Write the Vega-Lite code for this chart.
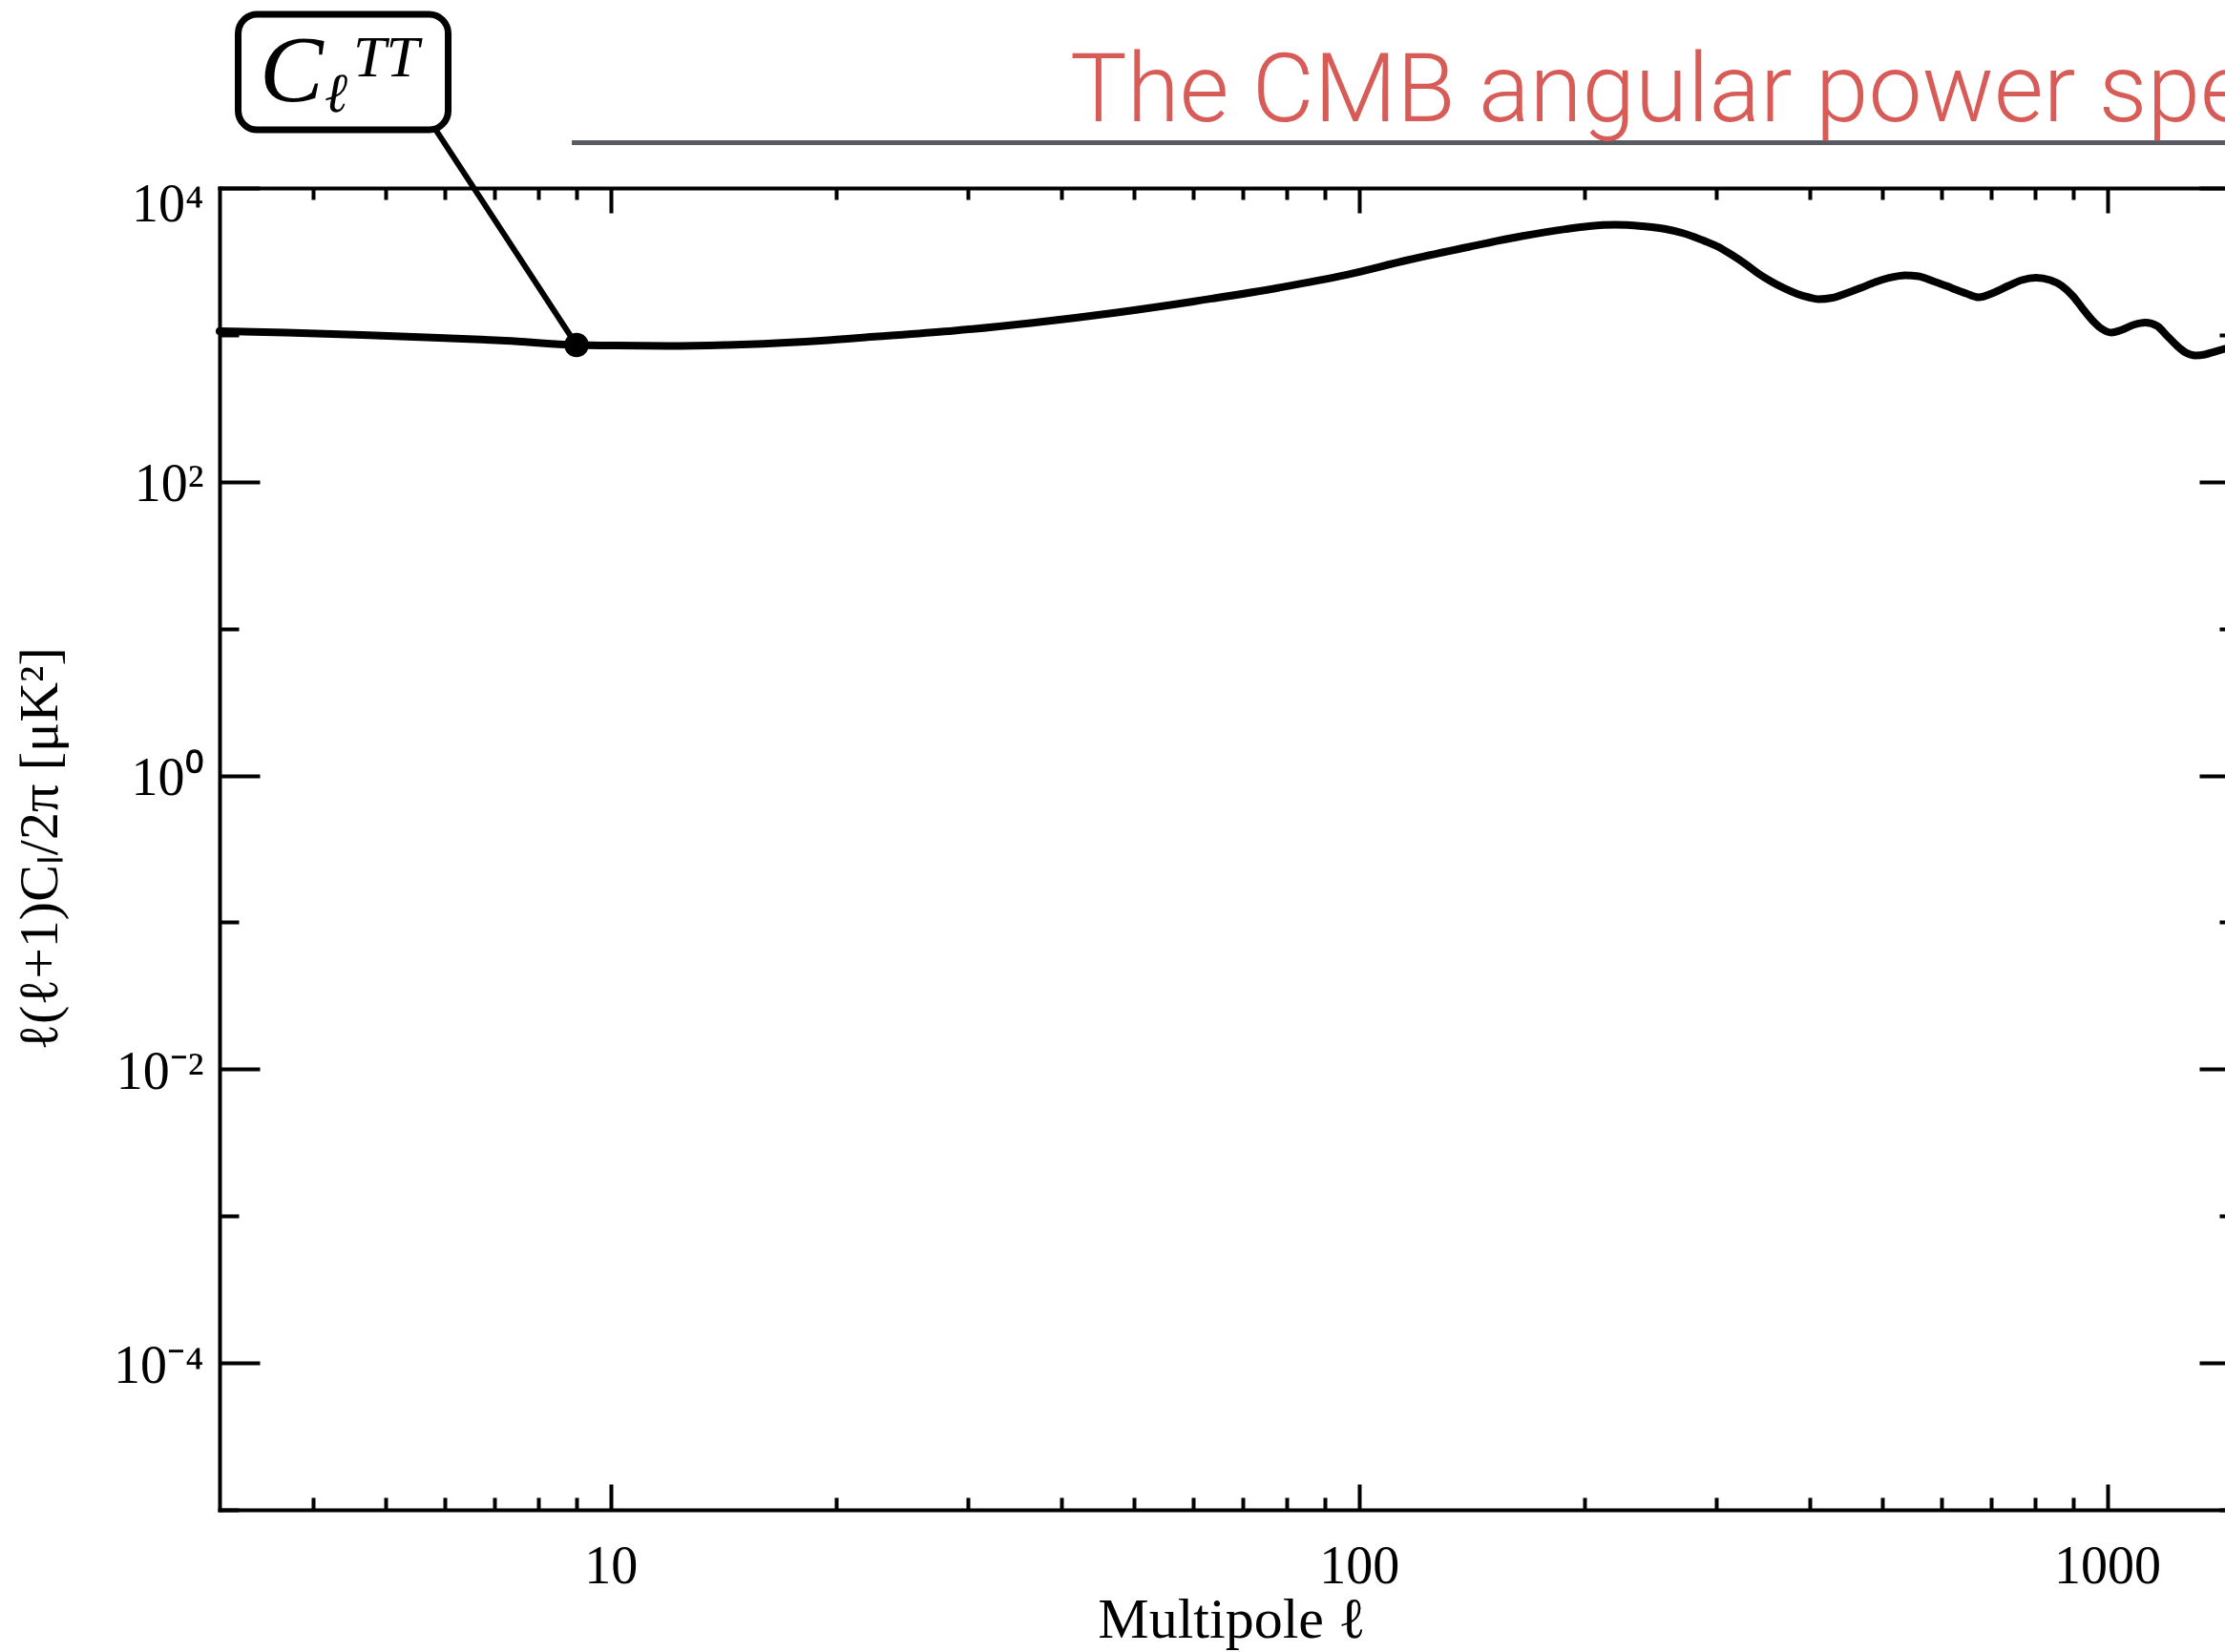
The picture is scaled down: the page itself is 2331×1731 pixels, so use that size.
{
  "$schema": "https://vega.github.io/schema/vega-lite/v6.json",
  "width": 2101,
  "height": 1385,
  "autosize": {"type": "none"},
  "padding": {"left": 230, "top": 197, "right": 0, "bottom": 149},
  "background": "white",
  "config": {
    "view": {"stroke": null},
    "axis": {
      "grid": false,
      "domainColor": "black",
      "domainWidth": 4,
      "domainCap": "square",
      "tickColor": "black",
      "tickWidth": 4,
      "labelColor": "black",
      "titleColor": "black",
      "labelFont": "Liberation Serif",
      "titleFont": "Liberation Serif",
      "labelFontWeight": "normal",
      "titleFontWeight": "normal"
    }
  },
  "datasets": {
    "spectrum": [
      {"ell": 3, "Dl": 1060}, {"ell": 3.683, "Dl": 1036}, {"ell": 4.659, "Dl": 999}, {"ell": 5.893, "Dl": 955},
      {"ell": 7.24, "Dl": 913}, {"ell": 9, "Dl": 853}, {"ell": 10, "Dl": 847}, {"ell": 11.93, "Dl": 841},
      {"ell": 14.23, "Dl": 853}, {"ell": 16, "Dl": 870}, {"ell": 19.09, "Dl": 913}, {"ell": 22.76, "Dl": 976},
      {"ell": 28.8, "Dl": 1068}, {"ell": 36.42, "Dl": 1204}, {"ell": 47.45, "Dl": 1419}, {"ell": 60, "Dl": 1686},
      {"ell": 78.17, "Dl": 2094}, {"ell": 96, "Dl": 2556}, {"ell": 116.2, "Dl": 3231}, {"ell": 140.7, "Dl": 3985},
      {"ell": 164.9, "Dl": 4697}, {"ell": 188.7, "Dl": 5248}, {"ell": 203.1, "Dl": 5497}, {"ell": 219.8, "Dl": 5620},
      {"ell": 238.7, "Dl": 5497}, {"ell": 256.9, "Dl": 5256}, {"ell": 271.6, "Dl": 4914}, {"ell": 289.7, "Dl": 4359},
      {"ell": 301.9, "Dl": 3985}, {"ell": 315.5, "Dl": 3483}, {"ell": 329.7, "Dl": 2999}, {"ell": 341.6, "Dl": 2621},
      {"ell": 354.8, "Dl": 2325}, {"ell": 370.9, "Dl": 2063}, {"ell": 385.3, "Dl": 1900}, {"ell": 399.1, "Dl": 1803},
      {"ell": 411, "Dl": 1750}, {"ell": 429.5, "Dl": 1789}, {"ell": 447.5, "Dl": 1914}, {"ell": 469, "Dl": 2094},
      {"ell": 490.2, "Dl": 2291}, {"ell": 512.3, "Dl": 2451}, {"ell": 537, "Dl": 2544}, {"ell": 559.6, "Dl": 2506},
      {"ell": 584.8, "Dl": 2325}, {"ell": 618.3, "Dl": 2094}, {"ell": 648.1, "Dl": 1914}, {"ell": 673.4, "Dl": 1803},
      {"ell": 703.7, "Dl": 1929}, {"ell": 737.5, "Dl": 2158}, {"ell": 768.6, "Dl": 2360}, {"ell": 803.2, "Dl": 2451},
      {"ell": 839.3, "Dl": 2360}, {"ell": 869.6, "Dl": 2158}, {"ell": 900.6, "Dl": 1830}, {"ell": 927.6, "Dl": 1507},
      {"ell": 955, "Dl": 1260}, {"ell": 983.4, "Dl": 1100}, {"ell": 1012.7, "Dl": 1036}, {"ell": 1043, "Dl": 1076},
      {"ell": 1083, "Dl": 1168}, {"ell": 1125, "Dl": 1213}, {"ell": 1166, "Dl": 1151}, {"ell": 1201, "Dl": 991},
      {"ell": 1236.7, "Dl": 853}, {"ell": 1273.5, "Dl": 757}, {"ell": 1311.6, "Dl": 724}, {"ell": 1350.6, "Dl": 735},
      {"ell": 1390.9, "Dl": 768}, {"ell": 1436.5, "Dl": 804}
    ],
    "marker": [{"ell": 9, "Dl": 853}]
  },
  "layer": [
    {
      "data": {"values": [{}]},
      "mark": {"type": "rule", "color": "#585b61", "strokeWidth": 5},
      "encoding": {
        "x": {"datum": 8.87, "scale": {"type": "log", "domain": [3, 1437], "nice": false}, "axis": null},
        "x2": {"datum": 1437},
        "y": {"datum": 20350, "scale": {"type": "log", "domain": [0.00001, 10000], "nice": false}, "axis": null}
      }
    },
    {
      "data": {"values": [{}]},
      "mark": {"type": "rule", "color": "black", "strokeWidth": 6},
      "encoding": {
        "x": {"datum": 5.709, "scale": {"type": "log", "domain": [3, 1437], "nice": false}, "axis": null},
        "x2": {"datum": 9},
        "y": {"datum": 29580, "scale": {"type": "log", "domain": [0.00001, 10000], "nice": false}, "axis": null},
        "y2": {"datum": 853}
      }
    },
    {
      "data": {"name": "spectrum"},
      "mark": {"type": "line", "color": "black", "strokeWidth": 8, "interpolate": "monotone", "strokeCap": "round", "strokeJoin": "round"},
      "encoding": {
        "x": {
          "field": "ell",
          "type": "quantitative",
          "scale": {"type": "log", "domain": [3, 1437], "nice": false},
          "axis": {
            "orient": "bottom",
            "values": [4, 5, 6, 7, 8, 9, 10, 20, 30, 40, 50, 60, 70, 80, 90, 100, 200, 300, 400, 500, 600, 700, 800, 900, 1000],
            "tickSize": {"condition": {"test": "datum.value == 10 || datum.value == 100 || datum.value == 1000", "value": -27}, "value": -13},
            "labelExpr": "datum.value == 10 || datum.value == 100 || datum.value == 1000 ? format(datum.value, 'd') : ''",
            "labelFontSize": 56,
            "labelAlign": "center",
            "labelBaseline": "top",
            "labelPadding": 59,
            "labelFlush": false,
            "labelOverlap": false,
            "labelBound": false,
            "title": "Multipole ℓ",
            "titleFontSize": 60,
            "titleX": 1060,
            "titleY": 133,
            "titleAlign": "center",
            "titleBaseline": "alphabetic"
          }
        },
        "y": {
          "field": "Dl",
          "type": "quantitative",
          "scale": {"type": "log", "domain": [0.00001, 10000], "nice": false},
          "axis": {
            "orient": "left",
            "values": [0.00001, 0.0001, 0.001, 0.01, 0.1, 1, 10, 100, 1000, 10000],
            "tickSize": {"condition": {"test": "abs(round(log(datum.value) / LN10)) % 2 == 0", "value": -42}, "value": -20},
            "labelExpr": "round(log(datum.value) / LN10) == 4 ? '10⁴' : round(log(datum.value) / LN10) == 2 ? '10²' : round(log(datum.value) / LN10) == 0 ? '10⁰' : round(log(datum.value) / LN10) == -2 ? '10⁻²' : round(log(datum.value) / LN10) == -4 ? '10⁻⁴' : ''",
            "labelFontSize": 56,
            "labelAlign": "right",
            "labelBaseline": "middle",
            "labelPadding": 59,
            "labelOffset": {"condition": {"test": "datum.value > 5000", "value": 17}, "value": 3},
            "labelFlush": false,
            "labelOverlap": false,
            "labelBound": false,
            "title": "ℓ(ℓ+1)Cₗ/2π [μK²]",
            "titleFontSize": 58,
            "titleAngle": -90,
            "titleX": -171,
            "titleY": 692,
            "titleAlign": "center",
            "titleBaseline": "alphabetic"
          }
        }
      }
    },
    {
      "data": {"values": [{}]},
      "mark": {"type": "rect", "fill": "white", "stroke": "black", "strokeWidth": 7, "cornerRadius": 20},
      "encoding": {
        "x": {"datum": 3.177, "scale": {"type": "log", "domain": [3, 1437], "nice": false}, "axis": null},
        "x2": {"datum": 6.063},
        "y": {"datum": 152260, "scale": {"type": "log", "domain": [0.00001, 10000], "nice": false}, "axis": null},
        "y2": {"datum": 24910}
      }
    },
    {
      "data": {"values": [{}]},
      "mark": {"type": "text", "text": "C", "font": "Liberation Serif", "fontStyle": "italic", "fontSize": 100, "color": "black", "align": "left", "baseline": "alphabetic"},
      "encoding": {
        "x": {"datum": 3.395, "scale": {"type": "log", "domain": [3, 1437], "nice": false}, "axis": null},
        "y": {"datum": 39310, "scale": {"type": "log", "domain": [0.00001, 10000], "nice": false}, "axis": null}
      }
    },
    {
      "data": {"values": [{}]},
      "mark": {"type": "text", "text": "ℓ", "font": "Liberation Serif", "fontStyle": "italic", "fontSize": 58, "color": "black", "align": "left", "baseline": "alphabetic"},
      "encoding": {
        "x": {"datum": 4.144, "scale": {"type": "log", "domain": [3, 1437], "nice": false}, "axis": null},
        "y": {"datum": 33350, "scale": {"type": "log", "domain": [0.00001, 10000], "nice": false}, "axis": null}
      }
    },
    {
      "data": {"values": [{}]},
      "mark": {"type": "text", "text": "TT", "font": "Liberation Serif", "fontStyle": "italic", "fontSize": 62, "color": "black", "align": "left", "baseline": "alphabetic"},
      "encoding": {
        "x": {"datum": 4.526, "scale": {"type": "log", "domain": [3, 1437], "nice": false}, "axis": null},
        "y": {"datum": 58010, "scale": {"type": "log", "domain": [0.00001, 10000], "nice": false}, "axis": null}
      }
    },
    {
      "data": {"values": [{}]},
      "mark": {"type": "text", "text": "The CMB angular power spectrum", "font": "Roboto", "fontWeight": 300, "fontSize": 100, "color": "#d75b57", "align": "left", "baseline": "alphabetic"},
      "encoding": {
        "x": {"datum": 41.1, "scale": {"type": "log", "domain": [3, 1437], "nice": false}, "axis": null},
        "y": {"datum": 28290, "scale": {"type": "log", "domain": [0.00001, 10000], "nice": false}, "axis": null}
      }
    },
    {
      "data": {"name": "marker"},
      "mark": {"type": "circle", "color": "black", "opacity": 1, "size": 660},
      "encoding": {
        "x": {
          "field": "ell",
          "type": "quantitative",
          "scale": {"type": "log", "domain": [3, 1437], "nice": false},
          "axis": {
            "orient": "top",
            "values": [4, 5, 6, 7, 8, 9, 10, 20, 30, 40, 50, 60, 70, 80, 90, 100, 200, 300, 400, 500, 600, 700, 800, 900, 1000],
            "tickSize": {"condition": {"test": "datum.value == 10 || datum.value == 100 || datum.value == 1000", "value": -26}, "value": -12},
            "labels": false,
            "title": null
          }
        },
        "y": {
          "field": "Dl",
          "type": "quantitative",
          "scale": {"type": "log", "domain": [0.00001, 10000], "nice": false},
          "axis": {
            "orient": "right",
            "offset": 15,
            "values": [0.00001, 0.0001, 0.001, 0.01, 0.1, 1, 10, 100, 1000, 10000],
            "tickSize": {"condition": {"test": "abs(round(log(datum.value) / LN10)) % 2 == 0", "value": -42}, "value": -21},
            "labels": false,
            "title": null
          }
        }
      }
    }
  ],
  "resolve": {"axis": {"x": "independent", "y": "independent"}}
}
